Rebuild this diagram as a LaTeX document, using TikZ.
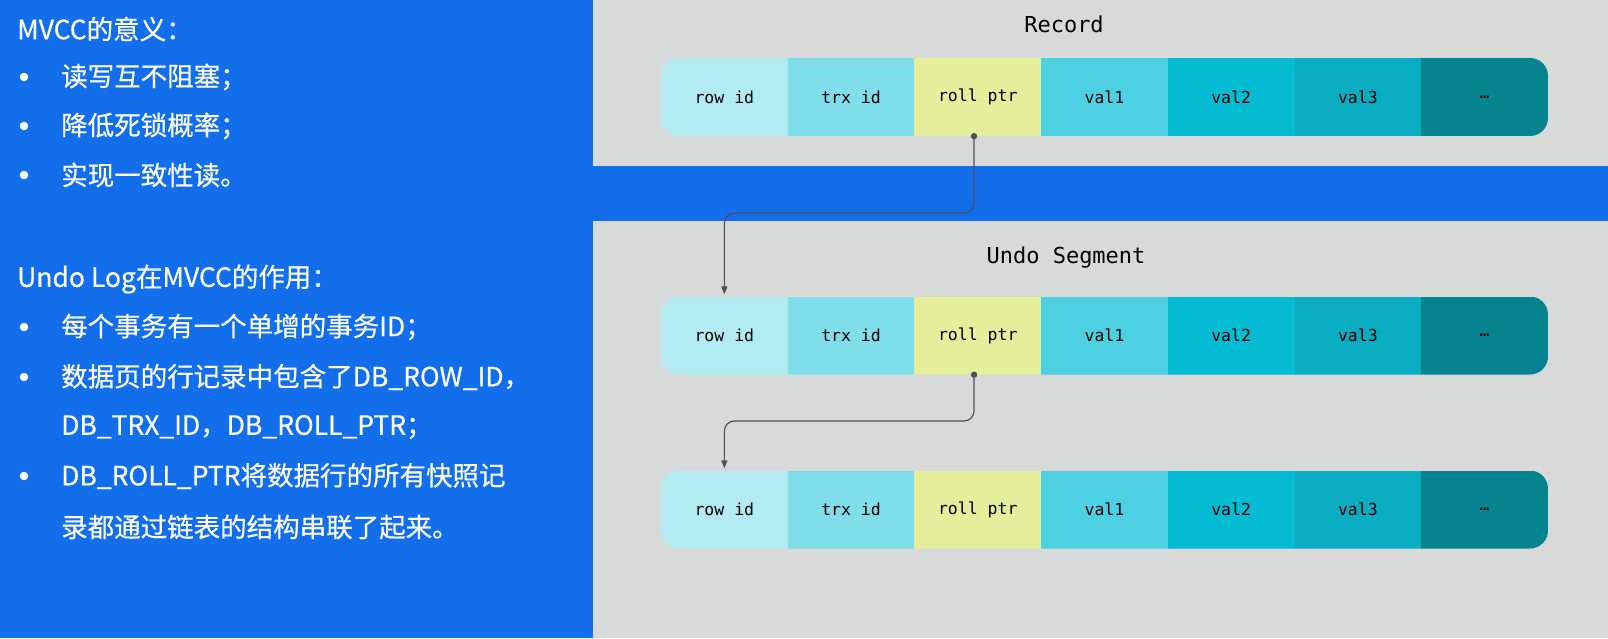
\documentclass[tikz,border=0pt]{standalone}
\usepackage{fontspec}
\newfontfamily\cjkfont[FakeBold=0.5]{Noto Sans CJK SC}
\newfontfamily\monofont{DejaVu Sans Mono}
\usetikzlibrary{arrows.meta}
\definecolor{bluebg}{HTML}{126EEA}
\definecolor{greybg}{HTML}{D8DADA}
\definecolor{cA}{HTML}{B2EBF2}
\definecolor{cB}{HTML}{80DEEA}
\definecolor{cC}{HTML}{E6EE9C}
\definecolor{cD}{HTML}{4DD0E1}
\definecolor{cE}{HTML}{04BBD4}
\definecolor{cF}{HTML}{0AACC1}
\definecolor{cG}{HTML}{05838F}
\definecolor{connc}{HTML}{4B4F5B}
\tikzset{
  cell/.style={minimum width=126.7pt, minimum height=78pt, inner sep=0pt,
    font=\monofont\fontsize{16.5}{18}\selectfont, text=black},
  rowtitle/.style={font=\monofont\fontsize{22}{24}\selectfont, text=black},
  lefttext/.style={anchor=west, inner sep=0pt, text=white,
    font=\cjkfont\fontsize{26.5}{30}\selectfont},
  bulletmark/.style={circle, fill=white, inner sep=0pt, minimum size=8.5pt},
  conn/.style={draw=connc, line width=1.2pt, rounded corners=10pt,
    -{Triangle[length=8pt,width=6pt]}, shorten >=2pt},
}
\begin{document}
\begin{tikzpicture}[x=1pt,y=-1pt]
\useasboundingbox (0,0) rectangle (1608,638);
\fill[bluebg] (0,0) rectangle (1608,638);
\fill[greybg] (593,0) rectangle (1608,166);
\fill[greybg] (593,221) rectangle (1608,638);

% left text
\node[lefttext] (h1) at (17,29) {MVCC的意义：};
\node[bulletmark] (b1m) at (24,77) {};
\node[lefttext] (t1) at (61,77) {读写互不阻塞；};
\node[bulletmark] (b2m) at (24,126) {};
\node[lefttext] (t2) at (61,126) {降低死锁概率；};
\node[bulletmark] (b3m) at (24,175) {};
\node[lefttext] (t3) at (61,175) {实现一致性读。};
\node[lefttext] (h2) at (17,279) {Undo Log在MVCC的作用：};
\node[bulletmark] (b4m) at (24,327) {};
\node[lefttext] (t4) at (61,327) {每个事务有一个单增的事务ID；};
\node[bulletmark] (b5m) at (24,377) {};
\node[lefttext] (t5) at (61,377) {数据页的行记录中包含了DB\_ROW\_ID，};
\node[lefttext] (t5b) at (61,427) {DB\_TRX\_ID，DB\_ROLL\_PTR；};
\node[bulletmark] (b6m) at (24,476) {};
\node[lefttext] (t6) at (61,476) {DB\_ROLL\_PTR将数据行的所有快照记};
\node[lefttext] (t6b) at (61,527) {录都通过链表的结构串联了起来。};

% titles
\node[rowtitle] (rec) at (1064,24) {Record};
\node[rowtitle] (undo) at (1066,257) {Undo Segment};

% rows
\foreach \r/\y in {1/97,2/335.5,3/509.5}{
  \begin{scope}
    \clip[rounded corners=18pt] (661,\y-39) rectangle (1548,\y+39);
    \node[cell,fill=cA] (r\r a) at (724.35,\y) {row id};
    \node[cell,fill=cB] (r\r b) at (851.05,\y) {trx id};
    \node[cell,fill=cC] (r\r c) at (977.75,\y) {roll ptr};
    \node[cell,fill=cD] (r\r d) at (1104.45,\y) {val1};
    \node[cell,fill=cE] (r\r e) at (1231.15,\y) {val2};
    \node[cell,fill=cF] (r\r f) at (1357.85,\y) {val3};
    \node[cell,fill=cG] (r\r g) at (1484.55,\y) {…};
  \end{scope}
}

% connectors
\coordinate (d1) at ([xshift=-3.7pt]r1c.south);
\coordinate (k1) at (974,213);
\fill[connc] (d1) circle (3.2pt);
\draw[conn] (d1) -- (k1) -- (k1 -| r2a.north) -- (r2a.north);

\coordinate (d2) at ([xshift=-3.7pt]r2c.south);
\coordinate (k2) at (974,421);
\fill[connc] (d2) circle (3.2pt);
\draw[conn] (d2) -- (k2) -- (k2 -| r3a.north) -- (r3a.north);
\end{tikzpicture}
\end{document}
